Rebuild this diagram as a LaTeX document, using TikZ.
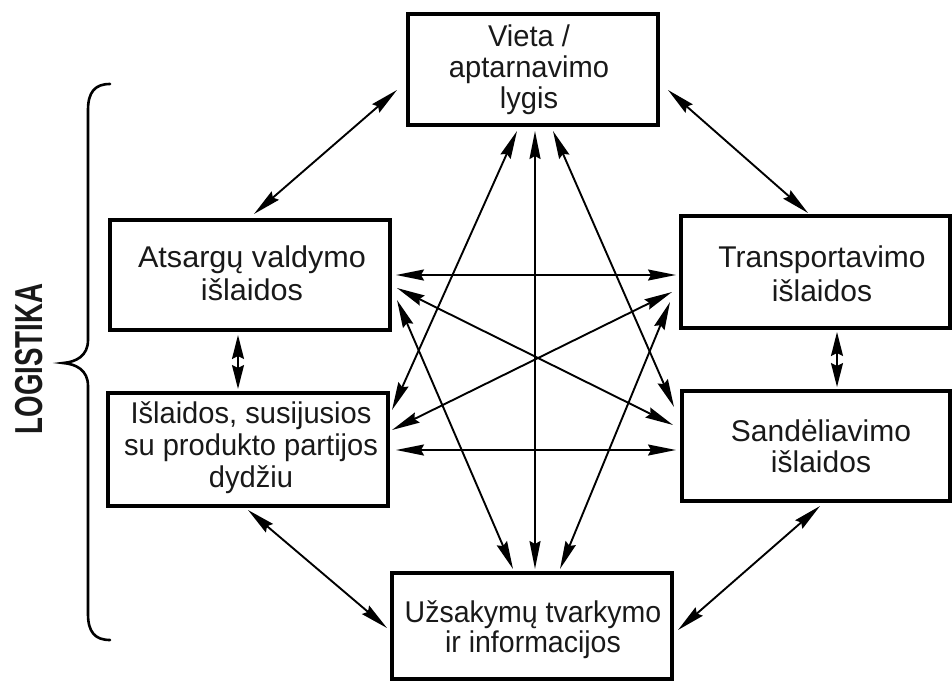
\documentclass[tikz,border=0pt]{standalone}
\usepackage{graphicx}
\usepackage{fontspec}
\setmainfont{Liberation Sans}
\usetikzlibrary{arrows.meta,calc}

% centred lines of a box caption, optionally narrowed
\newcommand\boxlines[2]{\scalebox{#1}[1]{\begin{tabular}{@{}c@{}}#2\end{tabular}}}

\begin{document}
\begin{tikzpicture}[x=1pt,y=-1pt,
  box/.style={draw=black, line width=4.5pt, inner sep=0pt, outer sep=0pt},
  lbl/.style={inner sep=0pt, text=black!90},
  conn/.style={line width=1.9pt,
    {Stealth[length=28pt,width=11pt,inset=3pt]}-{Stealth[length=28pt,width=11pt,inset=3pt]}},
  short conn/.style={line width=1.9pt,
    {Stealth[length=24pt,width=12pt,inset=3pt]}-{Stealth[length=24pt,width=12pt,inset=3pt]}},
  brace/.style={line width=2.6pt, line cap=round}]

\useasboundingbox (0,0) rectangle (952,683);

% boxes
\node[box, minimum width=250pt, minimum height=111pt] (T)  at (533,69.5) {};
\node[box, minimum width=280pt, minimum height=110pt] (LU) at (250,275)  {};
\node[box, minimum width=280pt, minimum height=113pt] (LL) at (248,449.5) {};
\node[box, minimum width=269pt, minimum height=112pt] (RU) at (815.5,272) {};
\node[box, minimum width=268pt, minimum height=110pt] (RL) at (816,446)  {};
\node[box, minimum width=280pt, minimum height=106pt] (B)  at (532,626)  {};

% captions
\node[lbl, font=\fontsize{30}{30}\selectfont] (Tt)  at (529,71)  {\boxlines{0.97}{Vieta /\\aptarnavimo\\lygis}};
\node[lbl, font=\fontsize{30}{33}\selectfont] (LUt) at (252,277) {\boxlines{1.02}{Atsargų valdymo\\išlaidos}};
\node[lbl, font=\fontsize{30}{32}\selectfont] (LLt) at (251,449) {\boxlines{0.97}{Išlaidos, susijusios\\su produkto partijos\\dydžiu}};
\node[lbl, font=\fontsize{30}{34}\selectfont] (RUt) at (822,278) {\boxlines{1}{Transportavimo\\išlaidos}};
\node[lbl, font=\fontsize{30}{31}\selectfont] (RLt) at (821,451) {\boxlines{1}{Sandėliavimo\\išlaidos}};
\node[lbl, font=\fontsize{30}{30}\selectfont] (Bt)  at (533,631) {\boxlines{0.95}{Užsakymų tvarkymo\\ir informacijos}};

% side label and brace
\node[lbl, rotate=90, font=\fontsize{39}{39}\selectfont\bfseries] (logi) at (29,359) {\scalebox{0.71}[1]{LOGISTIKA}};
\draw[brace] (110,84) .. controls (95,84) and (88,92) .. (88,110)
  -- (88,340) .. controls (88,356) and (76,362) .. (63,363)
  .. controls (76,364) and (88,370) .. (88,386)
  -- (88,614) .. controls (88,632) and (95,640) .. (110,640);

% outer ring
\draw[conn] ($(T.west)+(-11,20.5)$) -- ($(LU.north)+(4,-6)$);
\draw[conn] ($(T.east)+(10,20.5)$) -- ($(RU.north)+(-7.5,-3)$);
\draw[short conn] ($(LU.south)+(-12,5)$) -- ($(LL.north)+(-10,-4)$);
\draw[short conn] ($(RU.south)+(21.5,4)$) -- ($(RL.north)+(21,-4)$);
\draw[conn] ($(LL.south)+(0,4)$) -- ($(B.west)+(-5,2)$);
\draw[conn] ($(RL.south)+(4,5)$) -- ($(B.east)+(6,4)$);

% cross links
\draw[conn] ($(LU.east)+(6,0)$) -- ($(RU.west)+(-5,3)$);
\draw[conn] ($(LL.east)+(8,0.5)$) -- ($(RL.west)+(-6,4)$);
\draw[conn] ($(LU.east)+(7,13)$) -- ($(RL.west)+(-9,-21)$);
\draw[conn] ($(LL.east)+(4,-19.5)$) -- ($(RU.west)+(-9,20)$);
\draw[conn] ($(T.south)+(-16,6)$) -- ($(LL.east)+(4,-39.5)$);
\draw[conn] ($(T.south)+(2,6)$) -- ($(B.north)+(3,-4)$);
\draw[conn] ($(T.south)+(20,6)$) -- ($(RL.west)+(-8,-39)$);
\draw[conn] ($(LU.east)+(7,25)$) -- ($(B.north)+(-19,-4)$);
\draw[conn] ($(RU.west)+(-11,30)$) -- ($(B.north)+(28,-4)$);
\end{tikzpicture}
\end{document}
